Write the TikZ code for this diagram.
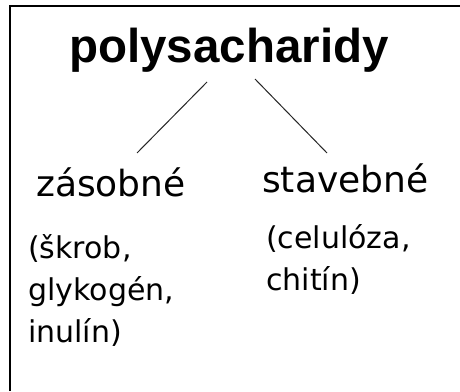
\documentclass[tikz,border=0pt]{standalone}
\usepackage{fontspec}
\setmainfont{DejaVu Sans}
\newfontfamily\titlefont{Liberation Sans}
\begin{document}
\begin{tikzpicture}[x=1pt,y=1pt,
  titletext/.style={inner sep=0pt, anchor=base west, font=\titlefont\bfseries\fontsize{47.5}{50}\selectfont},
  grouptext/.style={inner sep=0pt, anchor=base west, font=\fontsize{36}{40}\selectfont},
  listtext/.style={inner sep=0pt, anchor=north west, align=left, font=\fontsize{30}{42}\selectfont},
  branch/.style={line width=1pt, black!85},
  frame/.style={line width=2pt, black}]
\useasboundingbox (0,0) rectangle (460,391);
\fill[white] (0,0) rectangle (460,391);
% open frame: top and left edges only
\draw[frame] (9.5,0) -- (9.5,385) -- (460,385);
% headings
\node[titletext] (root) at (69,328) {polysacharidy};
\node[grouptext] (zas) at (36,194) {zásobné};
\node[grouptext] (stav) at (262,198) {stavebné};
% examples
\node[listtext] (zaslist) at (28,157) {(škrob,\\glykogén,\\inulín)};
\node[listtext] (stavlist) at (266,167) {(celulóza,\\chitín)};
% branches
\coordinate (l1) at (207,309);
\coordinate (l2) at (137,238);
\coordinate (r1) at (255,312);
\coordinate (r2) at (327,238);
\draw[branch] (l1) -- (l2);
\draw[branch] (r1) -- (r2);
\end{tikzpicture}
\end{document}
